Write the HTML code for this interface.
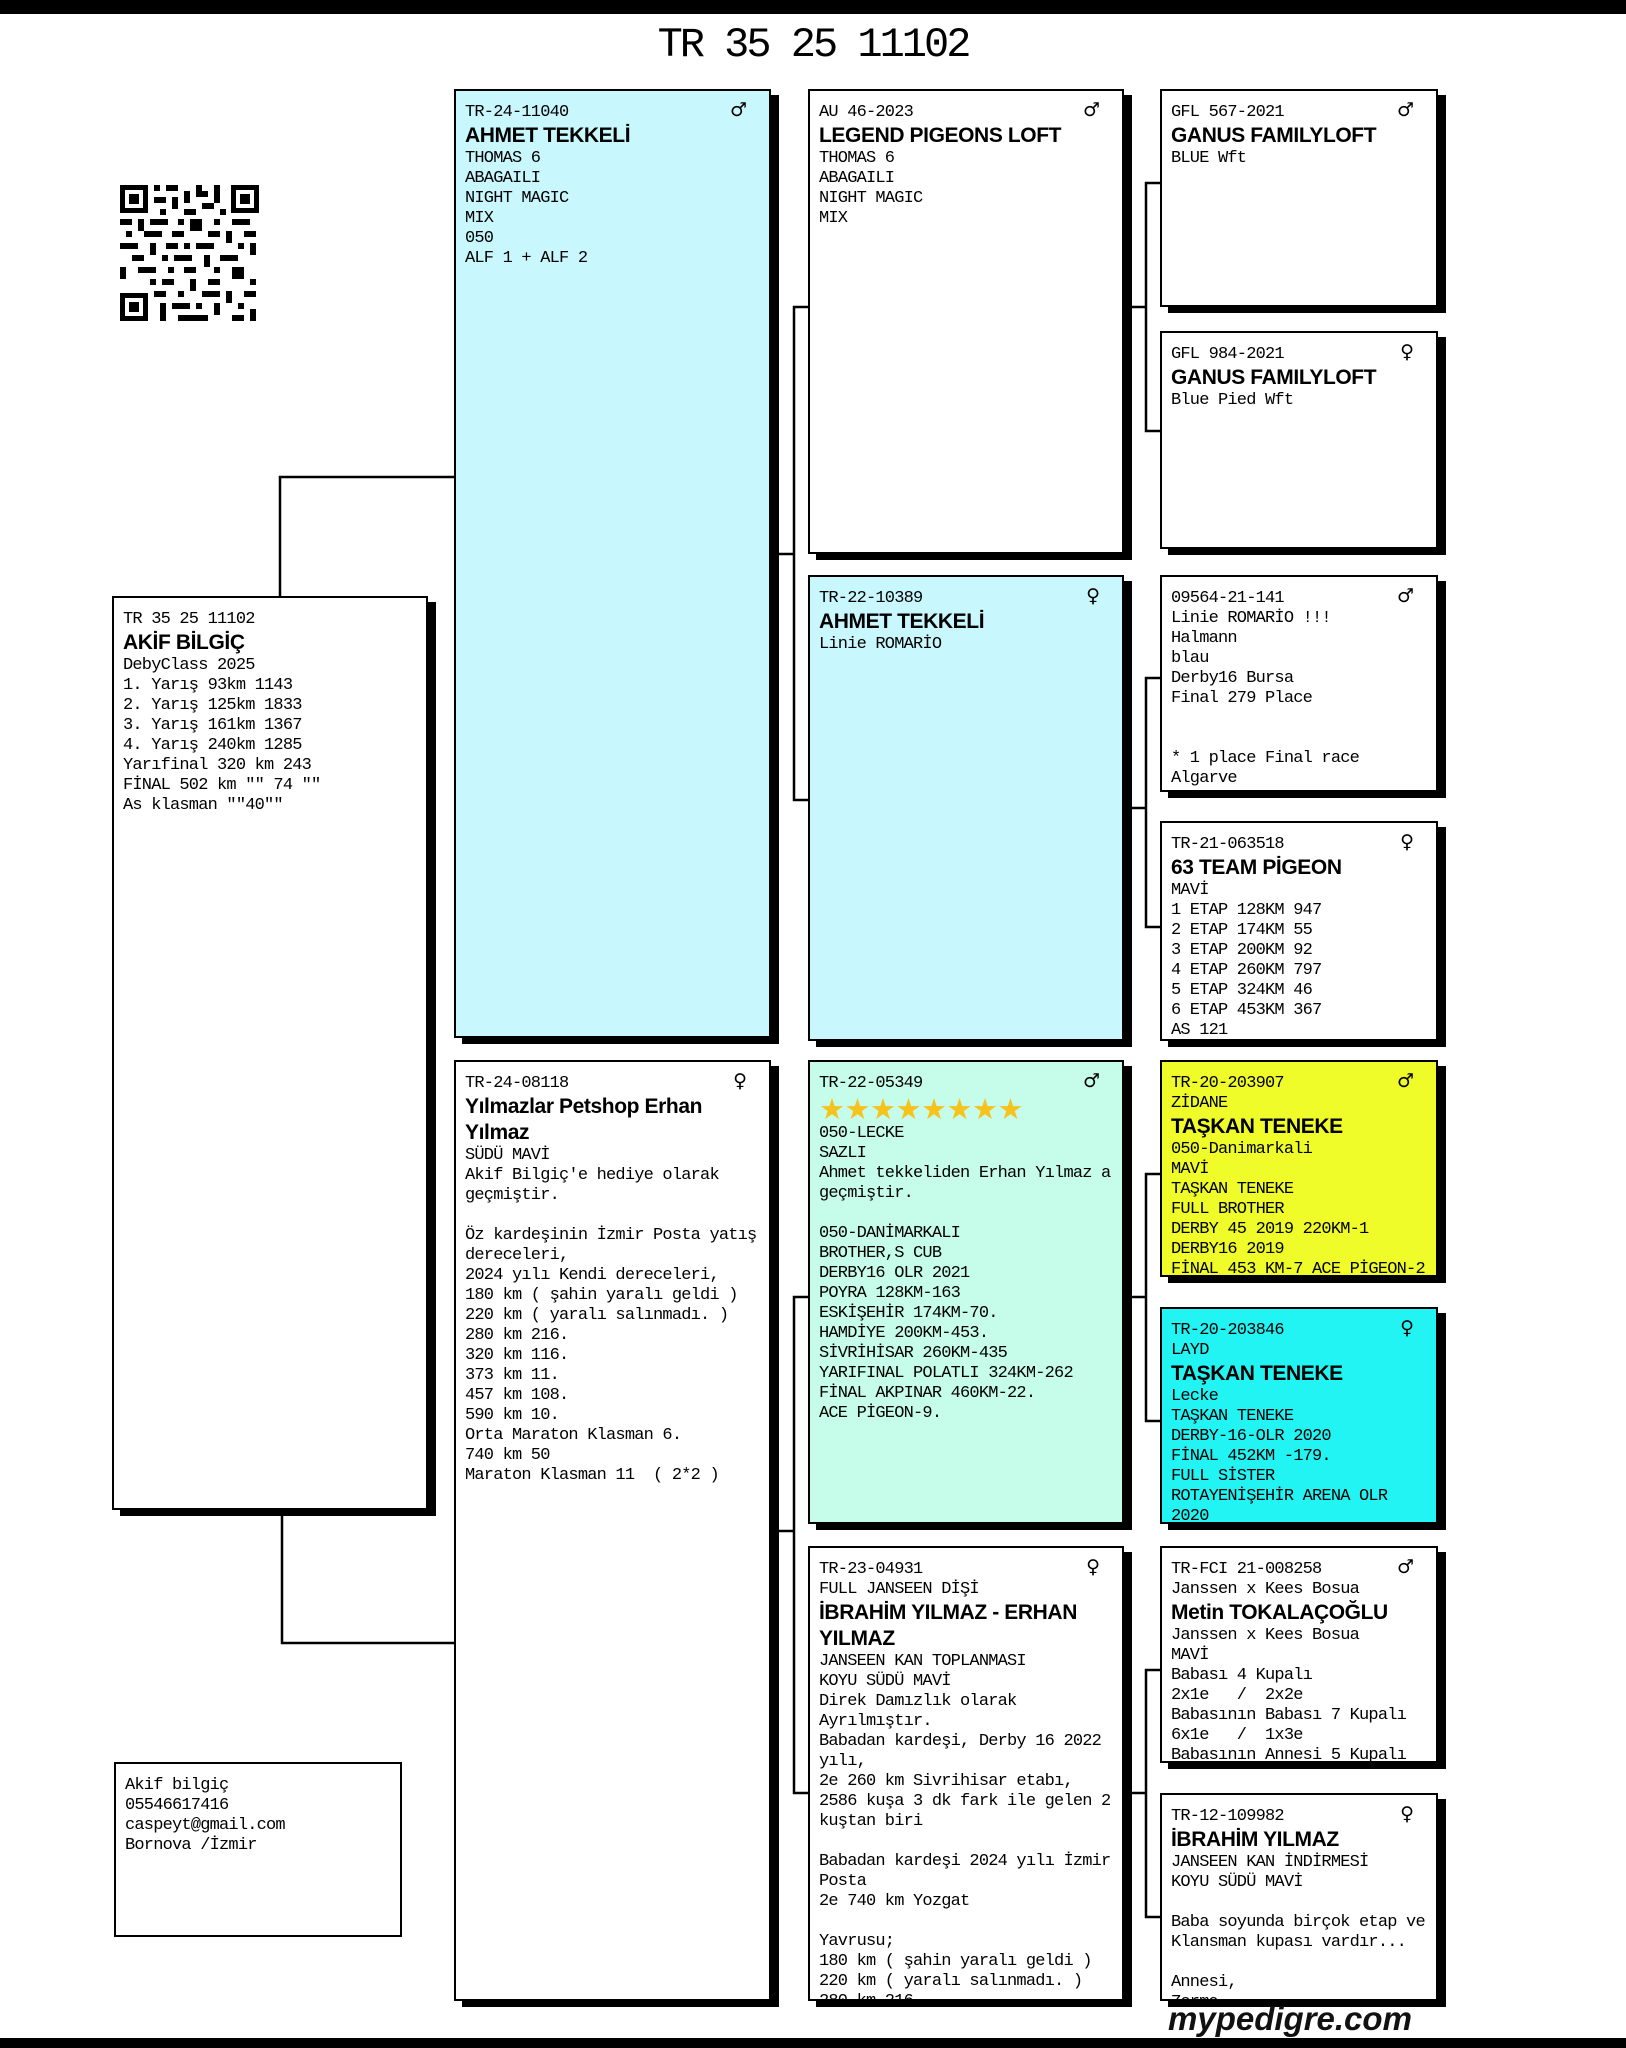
<!DOCTYPE html>
<html><head><meta charset="utf-8">
<style>
*{margin:0;padding:0;box-sizing:border-box}
body{width:1626px;height:2048px;background:#fff;position:relative;overflow:hidden;font-family:"Liberation Mono","DejaVu Sans Mono",monospace}
.bar{position:absolute;left:0;width:1626px;background:#000}
.b{position:absolute;border:2px solid #000;background:#fff;box-shadow:8px 6px 0 #000;overflow:hidden;padding:12px 0 0 9px;font-size:17px;letter-spacing:-0.8px;line-height:20px;white-space:pre;color:#000}
.n{font-family:"Liberation Sans",sans-serif;font-weight:bold;font-size:21px;line-height:26px;letter-spacing:-0.4px;white-space:pre}
.g{position:absolute;right:22px;top:8px;font-family:"DejaVu Sans",sans-serif;font-size:19px;line-height:22px;letter-spacing:0}
.st{font-family:"DejaVu Sans",sans-serif;color:#f6c21c;font-size:29px;line-height:30px;letter-spacing:-0.5px}
.c1{background:#c8f7fd}.c2{background:#c6fcea}.c3{background:#f0fc2a}.c4{background:#22f4f4}
</style></head><body>
<div class="bar" style="top:0;height:14px"></div>
<div class="bar" style="top:2038px;height:10px"></div>
<div style="position:absolute;left:600px;top:22px;width:426px;text-align:center;font-size:42px;line-height:46px;letter-spacing:-3px">TR 35 25 11102</div>

<svg style="position:absolute;left:0;top:0" width="1626" height="2048">
<g stroke="#000" stroke-width="2.5" fill="none">
<polyline points="454,477 280,477 280,596"/>
<polyline points="282,1510 282,1643 454,1643"/>
<polyline points="771,554 794,554"/><polyline points="808,307 794,307 794,800 808,800"/>
<polyline points="771,1531 794,1531"/><polyline points="808,1297 794,1297 794,1793 808,1793"/>
<polyline points="1124,307 1146,307"/><polyline points="1160,183 1146,183 1146,431 1160,431"/>
<polyline points="1124,808 1146,808"/><polyline points="1160,678 1146,678 1146,927 1160,927"/>
<polyline points="1124,1297 1146,1297"/><polyline points="1160,1174 1146,1174 1146,1421 1160,1421"/>
<polyline points="1124,1793 1146,1793"/><polyline points="1160,1670 1146,1670 1146,1917 1160,1917"/>
</g>
<g transform="translate(120,185)" fill="#000">
<rect x="0" y="0" width="139" height="136" fill="#fff"/>
<rect x="0" y="0" width="28" height="28"/><rect x="5" y="5" width="18" height="18" fill="#fff"/><rect x="9" y="9" width="10" height="10"/>
<rect x="111" y="0" width="28" height="28"/><rect x="116" y="5" width="18" height="18" fill="#fff"/><rect x="120" y="9" width="10" height="10"/>
<rect x="0" y="108" width="28" height="28"/><rect x="5" y="113" width="18" height="18" fill="#fff"/><rect x="9" y="117" width="10" height="10"/>
<path d="M34 0h6v6h-6zM46 0h12v6h-12zM64 6h6v12h-6zM76 0h6v6h6v6h-12zM94 0h6v18h-6zM34 12h12v6h-12zM52 12h6v12h-6zM82 18h12v6h-12zM40 24h6v6h-6zM64 24h12v6h-12zM100 24h6v6h-6zM0 34h12v6h-12zM18 34h6v12h-6zM30 34h18v6h-18zM58 34h6v6h-6zM70 34h12v12h-12zM94 34h6v6h-6zM112 34h18v6h-18zM6 46h6v6h-6zM24 46h18v6h-18zM52 46h12v6h-12zM88 46h12v6h-12zM106 46h6v12h-6zM124 46h12v6h-12zM0 58h18v6h-18zM30 58h6v12h-6zM46 58h12v6h-12zM64 58h6v6h-6zM76 58h18v6h-18zM118 58h6v6h-6zM130 58h6v12h-6zM12 70h12v6h-12zM42 70h6v6h-6zM54 70h18v6h-18zM84 70h6v12h-6zM100 70h18v6h-18zM0 82h6v12h-6zM18 82h18v6h-18zM48 82h6v6h-6zM64 82h12v6h-12zM94 82h6v6h-6zM112 82h12v12h-12zM30 94h6v6h-6zM42 94h12v6h-12zM70 94h6v12h-6zM88 94h12v6h-12zM130 94h6v6h-6zM34 106h12v6h-12zM58 106h6v6h-6zM82 106h18v6h-18zM106 106h6v12h-6zM124 106h12v6h-12zM40 118h6v18h-6zM52 118h18v6h-18zM76 118h6v6h-6zM94 118h6v12h-6zM118 118h6v6h-6zM58 130h30v6h-30zM112 130h12v6h-12zM130 124h6v12h-6z"/>
</g>
</svg>

<!-- subject -->
<div class="b" style="left:112px;top:596px;width:316px;height:914px">TR 35 25 11102
<div class="n">AKİF BİLGİÇ</div>DebyClass 2025
1. Yarış 93km 1143
2. Yarış 125km 1833
3. Yarış 161km 1367
4. Yarış 240km 1285
Yarıfinal 320 km 243
FİNAL 502 km "" 74 ""
As klasman ""40""</div>

<div class="b" style="left:114px;top:1762px;width:288px;height:175px;box-shadow:none;padding-top:12px">Akif bilgiç
05546617416
caspeyt@gmail.com
Bornova /İzmir</div>

<!-- gen1 -->
<div class="b c1" style="left:454px;top:89px;width:317px;height:949px"><span class="g">♂</span>TR-24-11040
<div class="n">AHMET TEKKELİ</div>THOMAS 6
ABAGAILI
NIGHT MAGIC
MIX
050
ALF 1 + ALF 2</div>

<div class="b" style="left:454px;top:1060px;width:317px;height:941px"><span class="g">♀</span>TR-24-08118
<div class="n">Yılmazlar Petshop Erhan
Yılmaz</div>SÜDÜ MAVİ
Akif Bilgiç'e hediye olarak
geçmiştir.

Öz kardeşinin İzmir Posta yatış
dereceleri,
2024 yılı Kendi dereceleri,
180 km ( şahin yaralı geldi )
220 km ( yaralı salınmadı. )
280 km 216.
320 km 116.
373 km 11.
457 km 108.
590 km 10.
Orta Maraton Klasman 6.
740 km 50
Maraton Klasman 11  ( 2*2 )</div>

<!-- gen2 -->
<div class="b" style="left:808px;top:89px;width:316px;height:465px"><span class="g">♂</span>AU 46-2023
<div class="n">LEGEND PIGEONS LOFT</div>THOMAS 6
ABAGAILI
NIGHT MAGIC
MIX</div>

<div class="b c1" style="left:808px;top:575px;width:316px;height:466px"><span class="g">♀</span>TR-22-10389
<div class="n">AHMET TEKKELİ</div>Linie ROMARİO</div>

<div class="b c2" style="left:808px;top:1060px;width:316px;height:464px"><span class="g">♂</span>TR-22-05349
<div class="st">★★★★★★★★</div>050-LECKE
SAZLI
Ahmet tekkeliden Erhan Yılmaz a
geçmiştir.

050-DANİMARKALI
BROTHER,S CUB
DERBY16 OLR 2021
POYRA 128KM-163
ESKİŞEHİR 174KM-70.
HAMDİYE 200KM-453.
SİVRİHİSAR 260KM-435
YARIFINAL POLATLI 324KM-262
FİNAL AKPINAR 460KM-22.
ACE PİGEON-9.</div>

<div class="b" style="left:808px;top:1546px;width:316px;height:455px"><span class="g">♀</span>TR-23-04931
FULL JANSEEN DİŞİ
<div class="n">İBRAHİM YILMAZ - ERHAN
YILMAZ</div>JANSEEN KAN TOPLANMASI
KOYU SÜDÜ MAVİ
Direk Damızlık olarak
Ayrılmıştır.
Babadan kardeşi, Derby 16 2022
yılı,
2e 260 km Sivrihisar etabı,
2586 kuşa 3 dk fark ile gelen 2
kuştan biri

Babadan kardeşi 2024 yılı İzmir
Posta
2e 740 km Yozgat

Yavrusu;
180 km ( şahin yaralı geldi )
220 km ( yaralı salınmadı. )
280 km 216.</div>

<!-- gen3 -->
<div class="b" style="left:1160px;top:89px;width:278px;height:218px"><span class="g">♂</span>GFL 567-2021
<div class="n">GANUS FAMILYLOFT</div>BLUE Wft</div>

<div class="b" style="left:1160px;top:331px;width:278px;height:218px"><span class="g">♀</span>GFL 984-2021
<div class="n">GANUS FAMILYLOFT</div>Blue Pied Wft</div>

<div class="b" style="left:1160px;top:575px;width:278px;height:217px"><span class="g">♂</span>09564-21-141
Linie ROMARİO !!!
Halmann
blau
Derby16 Bursa
Final 279 Place


* 1 place Final race
Algarve</div>

<div class="b" style="left:1160px;top:821px;width:278px;height:220px"><span class="g">♀</span>TR-21-063518
<div class="n">63 TEAM PİGEON</div>MAVİ
1 ETAP 128KM 947
2 ETAP 174KM 55
3 ETAP 200KM 92
4 ETAP 260KM 797
5 ETAP 324KM 46
6 ETAP 453KM 367
AS 121</div>

<div class="b c3" style="left:1160px;top:1060px;width:278px;height:217px"><span class="g">♂</span>TR-20-203907
ZİDANE
<div class="n">TAŞKAN TENEKE</div>050-Danimarkali
MAVİ
TAŞKAN TENEKE
FULL BROTHER
DERBY 45 2019 220KM-1
DERBY16 2019
FİNAL 453 KM-7 ACE PİGEON-2</div>

<div class="b c4" style="left:1160px;top:1307px;width:278px;height:217px"><span class="g">♀</span>TR-20-203846
LAYD
<div class="n">TAŞKAN TENEKE</div>Lecke
TAŞKAN TENEKE
DERBY-16-OLR 2020
FİNAL 452KM -179.
FULL SİSTER
ROTAYENİŞEHİR ARENA OLR
2020</div>

<div class="b" style="left:1160px;top:1546px;width:278px;height:217px"><span class="g">♂</span>TR-FCI 21-008258
Janssen x Kees Bosua
<div class="n">Metin TOKALAÇOĞLU</div>Janssen x Kees Bosua
MAVİ
Babası 4 Kupalı
2x1e   /  2x2e
Babasının Babası 7 Kupalı
6x1e   /  1x3e
Babasının Annesi 5 Kupalı</div>

<div class="b" style="left:1160px;top:1793px;width:278px;height:208px"><span class="g">♀</span>TR-12-109982
<div class="n">İBRAHİM YILMAZ</div>JANSEEN KAN İNDİRMESİ
KOYU SÜDÜ MAVİ

Baba soyunda birçok etap ve
Klansman kupası vardır...

Annesi,
Zorma...</div>

<div style="position:absolute;left:1168px;top:2000px;font-family:'Liberation Sans',sans-serif;font-weight:bold;font-style:italic;font-size:33px;line-height:38px;color:#111">mypedigre.com</div>
</body></html>
